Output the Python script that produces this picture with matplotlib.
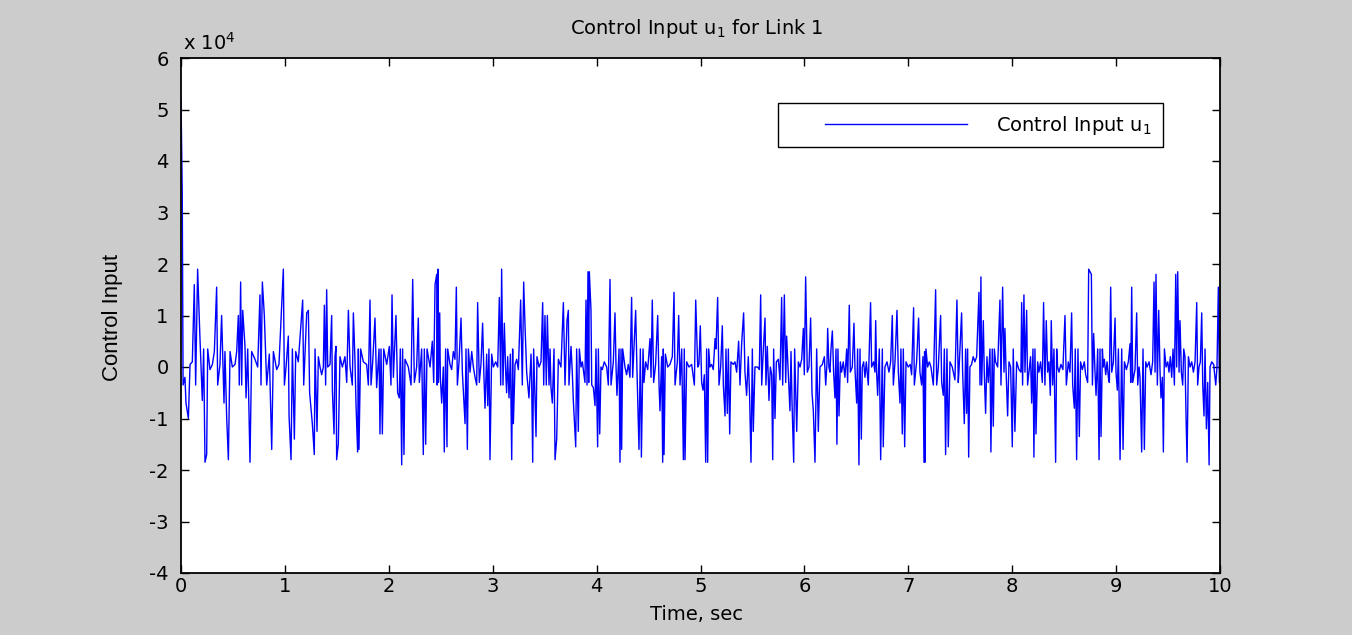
import matplotlib
matplotlib.use("Agg")
import matplotlib.pyplot as plt
import numpy as np
from matplotlib.ticker import FuncFormatter
from matplotlib.legend_handler import HandlerLine2D
from matplotlib import font_manager

# time (s) and control input u1 (in units of 1e3), segment by segment
t_seg1 = [0.000, 0.012, 0.020, 0.038, 0.048, 0.071, 0.087, 0.109, 0.128, 0.141, 0.160, 0.180, 0.205, 0.218,
          0.231, 0.247, 0.257, 0.279, 0.302, 0.321, 0.343, 0.353, 0.375, 0.391, 0.414, 0.423, 0.440, 0.456,
          0.472, 0.494, 0.520, 0.536, 0.552, 0.561, 0.574, 0.584, 0.594, 0.616, 0.626, 0.642, 0.664, 0.680,
          0.712, 0.738, 0.760, 0.770, 0.783, 0.802, 0.825, 0.850, 0.873, 0.889, 0.921, 0.943, 0.969, 0.985,
          0.995, 1.011, 1.033, 1.040, 1.059, 1.072, 1.091, 1.104, 1.129, 1.171, 1.181, 1.210, 1.226]
u_seg1 = [52, 34, -3.5, -2, -7, -10, 0.5, 1, 16, -3.5, 19, 7, -6.5, 3.5,
          -18.5, -17, 3.5, -0.5, 0.5, 3, 15.5, -3.5, 0.5, 10, -7, 3, -10, -18,
          3, 0, 0.5, 3, 10, -3.5, 16.5, -3.5, 11, 4, -6, 3.5, -18.5, 3,
          1.5, 0, 14, -3.5, 16.5, 10, -3.5, 2.5, -16, 3, -0.5, 0.5, 12, 19,
          -3.5, 0, 6, -9.5, -18, 3.5, -14, 3, 1, 13, -3.5, 10.5, 11]

t_seg2 = [1.238, 1.264, 1.283, 1.290, 1.309, 1.322, 1.338, 1.354, 1.370, 1.380, 1.392, 1.402, 1.412, 1.434,
          1.450, 1.457, 1.473, 1.482, 1.492, 1.498, 1.514, 1.530, 1.553, 1.578, 1.595, 1.611, 1.627, 1.649,
          1.659, 1.675, 1.684, 1.700, 1.707, 1.713, 1.729, 1.755, 1.787, 1.803, 1.819, 1.829, 1.845, 1.867,
          1.883, 1.906, 1.915, 1.925, 1.938, 1.951, 1.980, 2.005, 2.021, 2.031, 2.044, 2.069, 2.085, 2.101,
          2.111, 2.124, 2.133, 2.146, 2.156, 2.188, 2.214, 2.230, 2.246, 2.268, 2.284, 2.294, 2.316, 2.332,
          2.342, 2.355, 2.368, 2.397, 2.419, 2.432, 2.445]
u_seg2 = [-5, -11, -17, 3.5, -12.5, 2, 0, -1.5, 0, 12, -3.5, 15, 0, 0.5,
          10, -4.5, -13, 2, 4, -18, -15, 2, 0, 2, -3, 11, 0, -3.5,
          10.5, 1, -7, -16.5, 3.5, -16, 3.5, 1, 0.5, -3.5, 13, -3.5, 1, 9.5,
          -4, 3.5, -13, 3.5, -13, 3.5, 0.5, 4, -3.5, 14, -2, 10, -5, -6,
          3.5, -19, 3.5, -17, 1.5, 0, -3.5, 17, -3, 0, 9.5, -3, 3.5, -17,
          3.5, -15, 3.5, 0, 5, -3, 16]

t_seg3 = [2.461, 2.466, 2.472, 2.478, 2.490, 2.496, 2.509, 2.525, 2.534, 2.547, 2.560, 2.567, 2.589, 2.605,
          2.621, 2.637, 2.650, 2.660, 2.676, 2.695, 2.708, 2.717, 2.734, 2.743, 2.756, 2.766, 2.782, 2.798,
          2.814, 2.830, 2.846, 2.855, 2.871, 2.887, 2.903, 2.916, 2.926, 2.942, 2.952, 2.964, 2.974, 2.990,
          3.006, 3.029, 3.048, 3.064, 3.077, 3.086, 3.099, 3.112, 3.125, 3.134, 3.144, 3.157, 3.170, 3.183,
          3.192, 3.199, 3.215, 3.231, 3.247, 3.269, 3.285, 3.298, 3.311, 3.327, 3.349, 3.369, 3.375, 3.385,
          3.394, 3.417, 3.426, 3.446, 3.465, 3.481, 3.491, 3.503, 3.516, 3.526, 3.542, 3.552, 3.561, 3.574,
          3.590, 3.600, 3.616, 3.632, 3.657, 3.680, 3.696, 3.715]
u_seg3 = [18, -3.5, 19, -3, 10.5, -2, -7, 0, -16.5, 3.5, -15.5, 3.5, 0.5, -0.5,
          3, 1.5, 15.5, -3.5, 1, 9.5, -1, -4.5, -11, 3.5, -16, 3.5, -1, 3,
          0, -2, -3.5, 12.5, -3, 0.5, 8.5, -2, -8, 2.5, -7.5, 3.5, -18, 2.5,
          0, 1, 0, 13.5, -3.5, 19, -3.5, 8.5, -1, -5, 2, -6, 2.5, -18,
          3.5, -11, 0.5, 1.5, -0.5, 13, -3.5, 16.5, 8, -1, -6, 2.5, -3, -18.5,
          3.5, -13.5, 2, 0, 1, 12.5, -3.5, 10, -3.5, 10, -3.5, 3.5, -4, -7,
          3.5, -18, -14, 1.5, 0, 12.5, -3.5, 9]

t_seg4 = [3.728, 3.734, 3.754, 3.766, 3.776, 3.799, 3.808, 3.824, 3.834, 3.850, 3.863, 3.879, 3.888, 3.898,
          3.908, 3.917, 3.924, 3.930, 3.946, 3.953, 3.969, 3.985, 3.994, 4.010, 4.017, 4.030, 4.042, 4.055,
          4.074, 4.097, 4.113, 4.129, 4.139, 4.161, 4.177, 4.187, 4.196, 4.216, 4.225, 4.235, 4.241, 4.251,
          4.273, 4.289, 4.305, 4.321, 4.337, 4.347, 4.376, 4.389, 4.408, 4.421, 4.431, 4.447, 4.456, 4.472,
          4.492, 4.514, 4.524, 4.536, 4.549, 4.568, 4.588, 4.601, 4.610, 4.626, 4.636, 4.642, 4.649, 4.662,
          4.684, 4.706, 4.729, 4.745, 4.755, 4.777, 4.790, 4.803, 4.819, 4.835, 4.844, 4.851, 4.867, 4.889,
          4.915, 4.941, 4.954, 4.973]
u_seg4 = [11, -3.5, 4, -1, -6.5, -15.5, 3.5, -12.5, 3.5, 0, 1, -1.5, -3, 13,
          -3.5, 18.5, -3, 18.5, 11, -3.5, -4, -7.5, 3.5, -15.5, 3.5, -13, 0, -0.5,
          1, 0, -3.5, 17, -3.5, 1, 10.5, 0, -5.5, 3.5, -18.5, 3.5, -16, 3.5,
          0, -1.5, 0.5, -2, 13.5, -2, 11, -1, -16, 3.5, -17.5, 3.5, -3, 1,
          -0.5, 5.5, -2, 13, -3, 0.5, 10, -3.5, -8.5, 2, -18.5, 3.5, -17, 2.5,
          0, 0.5, 2, 14.5, -3.5, 1, 10, -3.5, 3.5, -18, 3.5, -18, 1, 0,
          0.5, -3.5, 13, 0]

t_seg5 = [4.985, 4.998, 5.011, 5.024, 5.037, 5.050, 5.059, 5.069, 5.079, 5.091, 5.107, 5.123, 5.140, 5.149,
          5.165, 5.178, 5.194, 5.210, 5.220, 5.236, 5.245, 5.258, 5.268, 5.281, 5.293, 5.316, 5.332, 5.348,
          5.367, 5.380, 5.396, 5.415, 5.428, 5.444, 5.460, 5.473, 5.486, 5.499, 5.508, 5.524, 5.550, 5.566,
          5.579, 5.589, 5.605, 5.621, 5.630, 5.643, 5.659, 5.672, 5.685, 5.695, 5.704, 5.717, 5.730, 5.749,
          5.765, 5.781, 5.791, 5.807, 5.820, 5.829, 5.842, 5.861, 5.871, 5.881, 5.897, 5.906, 5.926, 5.942,
          5.958, 5.974, 5.990, 5.999, 6.012, 6.028, 6.044, 6.060, 6.073, 6.086, 6.102, 6.118, 6.134, 6.150,
          6.173, 6.192, 6.205, 6.217]
u_seg5 = [0.5, 8, -3, -4.5, -1.5, -18.5, 3.5, -18.5, 3.5, 0, 0.5, -0.5, 5.5, 3.5,
          13.5, -3.5, 0, 8, -3.5, -9.5, 3.5, -9, 3.5, -13, 1, 0.5, 1, -1,
          5, -3.5, 4.5, 10.5, -1, -5.5, 2, -6, -18.5, 3.5, -12.5, 0, 0, -0.5,
          14, -3.5, 3.5, 9.5, -3.5, 4, -6.5, 0, -1.5, -18, 3.5, -10, 1, 1.5,
          -2.5, 13.5, -3.5, 14, -3, 6, 0, -8.5, 3, -7, -18.5, 3.5, -12.5, 1,
          0, 1.5, 7.5, -1.5, 17.5, -1, 0, 9.5, -5, -8.5, -18.5, 3.5, -12.5, 0,
          0.5, 2, -3.5, 0.5]

t_seg6 = [6.224, 6.236, 6.246, 6.256, 6.269, 6.281, 6.294, 6.304, 6.313, 6.323, 6.333, 6.346, 6.358, 6.374,
          6.390, 6.407, 6.416, 6.432, 6.442, 6.461, 6.477, 6.487, 6.503, 6.512, 6.525, 6.535, 6.548, 6.557,
          6.570, 6.583, 6.596, 6.615, 6.637, 6.647, 6.666, 6.679, 6.686, 6.695, 6.705, 6.721, 6.734, 6.750,
          6.759, 6.775, 6.795, 6.814, 6.830, 6.846, 6.856, 6.872, 6.891, 6.904, 6.920, 6.929, 6.942, 6.952,
          6.965, 6.978, 6.999, 7.019, 7.032, 7.051, 7.058, 7.080, 7.099, 7.112, 7.128, 7.141, 7.151, 7.157,
          7.160, 7.170, 7.186, 7.202, 7.218, 7.241, 7.263, 7.273, 7.289, 7.311, 7.321, 7.337, 7.347, 7.359,
          7.372, 7.385, 7.401, 7.423, 7.449, 7.468, 7.481]
u_seg6 = [7.5, 0, -1, 3.5, 7, -1, -6, 3.5, -15, 3.5, -9.5, 1, -1, 1,
          -2, 3.5, -3, 12, -1, 0, 8.5, -0.5, -7, 3.5, -19, 3.5, -14, 0,
          1, -2, 1, -3.5, 12.5, 0, 1, -1, 9, -1, -5.5, 3.5, -18, 3.5,
          -15.5, 0, 1, -1, 1, 10, -3.5, 1, 11, -1, -7, 3.5, -13, 3.5,
          -15.5, 1, 0, 0.5, -1.5, 11.5, -3.5, 1, 9.5, -1, -3.5, 2, -18.5, 3,
          -18.5, 3.5, 0, 1, 0, -3.5, 15, -3.5, 0, 10, -3, -5.5, 3.5, -17,
          3.5, -15.5, 1, 0, -2.5, 13, -3]

t_seg7 = [7.487, 7.513, 7.523, 7.539, 7.552, 7.561, 7.571, 7.581, 7.593, 7.609, 7.625, 7.641, 7.658, 7.680,
          7.690, 7.699, 7.706, 7.722, 7.731, 7.744, 7.757, 7.770, 7.786, 7.795, 7.808, 7.818, 7.828, 7.840,
          7.860, 7.882, 7.892, 7.908, 7.921, 7.930, 7.940, 7.956, 7.969, 7.985, 8.001, 8.010, 8.026, 8.043,
          8.065, 8.084, 8.091, 8.100, 8.113, 8.123, 8.139, 8.148, 8.161, 8.177, 8.187, 8.200, 8.209, 8.219,
          8.229, 8.245, 8.257, 8.273, 8.290, 8.302, 8.315, 8.328, 8.341, 8.354, 8.367, 8.376, 8.389, 8.402,
          8.418, 8.428, 8.437, 8.450, 8.469, 8.488, 8.508, 8.521, 8.540, 8.556, 8.572, 8.582, 8.598, 8.607,
          8.620, 8.633, 8.646, 8.658, 8.675, 8.694, 8.707, 8.726]
u_seg7 = [-1, 10.5, -1, -11, 3.5, -9, 3.5, -17.5, 0, 0.5, 2, 1, 2, 14.5,
          -3.5, 17.5, -3.5, 9, -1, -9, 2, -3, 3.5, -16.5, 3.5, -11.5, 3.5, 1,
          0, 13, -3.5, 15.5, -1, 7.5, 0, -9.5, 1, 0, -15.5, 3.5, -12.5, 1,
          -0.5, -1, 12.5, -3.5, 14, -1, 11, -3.5, -1, 2, -7, 3.5, -17.5, 3.5,
          -13, 1, -1, 1, -3, 12.5, -3.5, 9, -1, 1, -5.5, 9, -3.5, 3.5,
          -18.5, 3.5, 0, -1, 0.5, -0.5, 10, -3.5, 1, -1, 10.5, -3.5, -8, 3.5,
          -18, 3.5, -13.5, 1, -0.5, 1, -1.5, -3]

t_seg8 = [8.736, 8.749, 8.762, 8.772, 8.784, 8.797, 8.807, 8.823, 8.836, 8.845, 8.855, 8.868, 8.877, 8.887,
          8.900, 8.913, 8.926, 8.935, 8.948, 8.958, 8.974, 8.990, 8.999, 9.012, 9.022, 9.038, 9.054, 9.067,
          9.080, 9.099, 9.118, 9.134, 9.141, 9.150, 9.160, 9.182, 9.198, 9.208, 9.221, 9.230, 9.246, 9.259,
          9.272, 9.285, 9.298, 9.317, 9.336, 9.352, 9.365, 9.375, 9.384, 9.397, 9.410, 9.423, 9.432, 9.445,
          9.455, 9.465, 9.481, 9.497, 9.509, 9.522, 9.535, 9.548, 9.561, 9.574, 9.583, 9.593, 9.606, 9.615,
          9.628, 9.641, 9.651, 9.663, 9.673, 9.683, 9.696, 9.712, 9.728, 9.744, 9.760, 9.776, 9.785, 9.798,
          9.811, 9.824, 9.834, 9.846, 9.856, 9.869, 9.882, 9.895, 9.904, 9.920, 9.939, 9.959, 9.971, 9.984,
          9.994, 10.0]
u_seg8 = [19, 18.5, 18, -3.5, 6.5, -1, -5.5, 3.5, -18, 3.5, -13.5, 3.5, 0, 1.5,
          -1.5, 1, -2, -3, 15.5, -1, 1, 9.5, -1, -4.5, 3.5, -18, 3.5, -16,
          1, -0.5, 1, 4.5, -3, 15.5, -3, -0.5, 10.5, -3.5, 0, -2, -16.5, 3.5,
          -16, 1, 0, 1, -1.5, 1, 16.5, -1, 18, -3.5, 11, -1, -6, -2,
          -16.5, 3.5, 0, 1, -1, 2, -2, 3.5, -3.5, 18, 0, 18.5, -1, 9,
          -1, -3.5, 3.5, 2, -9.5, -18.5, 2, 0, 1, -1, 1, 12.5, -3.5, 0,
          1, 10.5, -3.5, -9.5, 3.5, -12, -3, -19, 0, 1, 0.5, -3.5, 0, 15.5,
          -3, -3]

x_ticks = [0, 1, 2, 3, 4, 5, 6, 7, 8, 9, 10]
y_ticks = [-4, -3, -2, -1, 0, 1, 2, 3, 4, 5, 6]   # in units of 1e4

t = np.concatenate([t_seg1, t_seg2, t_seg3, t_seg4, t_seg5, t_seg6, t_seg7, t_seg8])
u1 = np.concatenate([u_seg1, u_seg2, u_seg3, u_seg4, u_seg5, u_seg6, u_seg7, u_seg8]) * 1e3

plt.rcParams['font.family'] = ['DejaVu Sans']
plt.rcParams['axes.unicode_minus'] = False

installed = {f.name for f in font_manager.fontManager.ttflist}
narrow = 'Liberation Sans Narrow' if 'Liberation Sans Narrow' in installed else 'Liberation Sans'


class OffsetLine(HandlerLine2D):
    # MATLAB legends leave a gap before the sample line
    def get_xdata(self, legend, xdescent, ydescent, width, height, fontsize):
        xdata, xm = super().get_xdata(legend, xdescent, ydescent, width, height, fontsize)
        return np.array([-xdescent + 0.19 * width, -xdescent + 0.93 * width]), xm


fig = plt.figure(figsize=(13.52, 6.35), dpi=100, facecolor='#cccccc')
ax = fig.add_axes([181 / 1352, 1 - 573 / 635, 1039 / 1352, 515 / 635])

line, = ax.plot(t, u1, color='#0000ff', lw=1.0, label='Control Input u$_1$')

ax.set_xlim(0, 10)
ax.set_ylim(-4e4, 6e4)
ax.set_xticks(x_ticks)
ax.set_yticks([v * 1e4 for v in y_ticks])
ax.yaxis.set_major_formatter(FuncFormatter(lambda v, p: '%g' % (v / 1e4)))
ax.tick_params(direction='in', top=True, right=True, length=6, width=1,
               labelsize=14, colors='black')
ax.tick_params(axis='y', pad=9)
ax.tick_params(axis='x', pad=3)
for s in ax.spines.values():
    s.set_linewidth(1.3)
    s.set_color('black')

fig.text(183 / 1352, 1 - 43 / 635, 'x 10$^{4}$', fontsize=14, ha='left', va='center')
fig.text(697 / 1352, 1 - 28 / 635, 'Control Input u$_1$ for Link 1', fontsize=14,
         ha='center', va='center')
fig.text(697 / 1352, 1 - 614 / 635, 'Time, sec', fontsize=14, ha='center', va='center')
fig.text(112 / 1352, 1 - 317 / 635, 'Control Input', fontsize=16, family=narrow,
         rotation=90, ha='center', va='center')

leg = ax.legend(handles=[line], loc='upper right', bbox_to_anchor=(0.945, 0.9126),
                borderaxespad=0, fancybox=False, edgecolor='black', framealpha=1,
                fontsize=14, handlelength=9.9, handletextpad=0.8, borderpad=0.55,
                handler_map={line: OffsetLine()})
leg.get_frame().set_linewidth(1.0)

fig.savefig('out.png', dpi=100, facecolor=fig.get_facecolor())
